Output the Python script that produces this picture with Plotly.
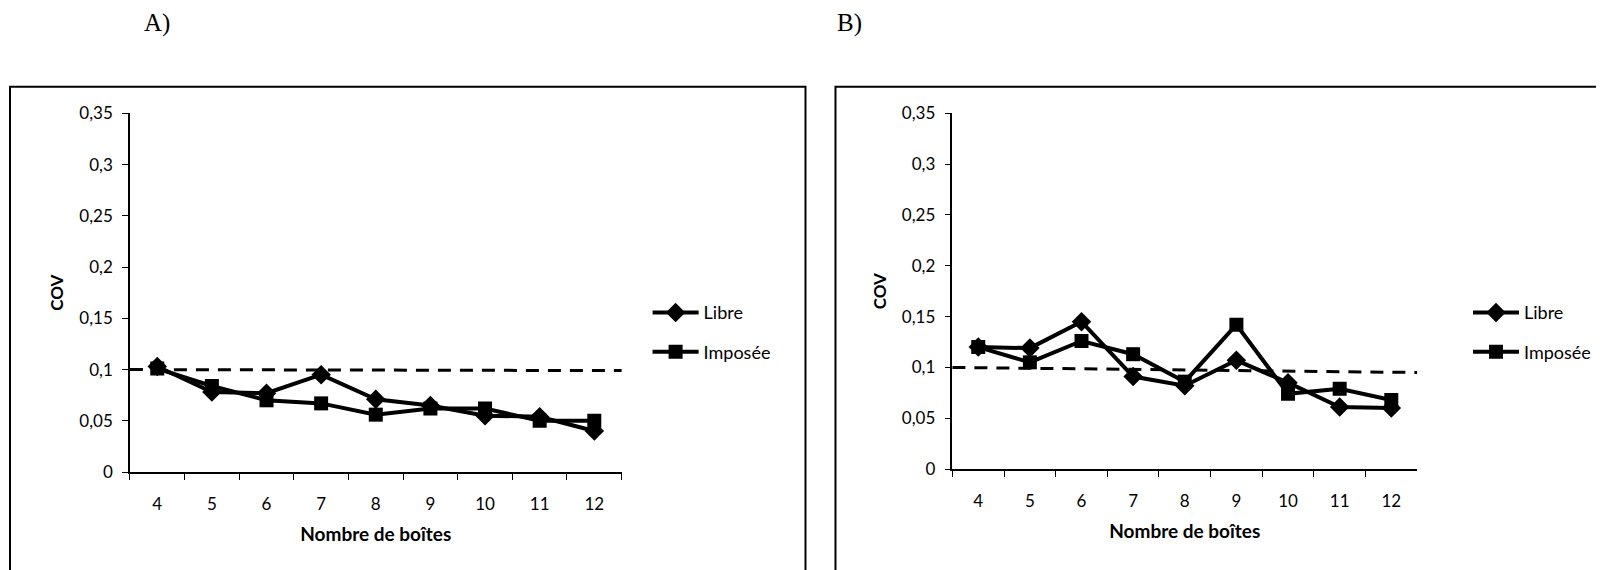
import plotly.graph_objects as go

categories = ["4", "5", "6", "7", "8", "9", "10", "11", "12"]

libre_a = [0.103, 0.078, 0.077, 0.095, 0.071, 0.065, 0.055, 0.054, 0.040]
imposee_a = [0.101, 0.084, 0.070, 0.067, 0.056, 0.062, 0.062, 0.050, 0.050]
seuil_a = [0.100, 0.099]

libre_b = [0.120, 0.119, 0.145, 0.091, 0.082, 0.107, 0.085, 0.061, 0.060]
imposee_b = [0.120, 0.105, 0.126, 0.113, 0.086, 0.142, 0.074, 0.079, 0.068]
seuil_b = [0.100, 0.095]

y_tickvals = [0, 0.05, 0.1, 0.15, 0.2, 0.25, 0.3, 0.35]
y_ticktext = ["0", "0,05", "0,1", "0,15", "0,2", "0,25", "0,3", "0,35"]

panel_titles = ["A)", "B)"]
x_title = "Nombre de boîtes"
y_title = "COV"
series_names = ["Libre", "Imposée"]

PAGE_W, PAGE_H = 1604, 570
OFF_X = 8
W, H = PAGE_W - 2 * OFF_X, 580
Y_OFF, Y_SCALE = 19.3, 0.962
FONT = "Lato, 'Open Sans', sans-serif"


def px_x(v):
    return (v - OFF_X) / W


def px_y(v):
    return 1 - ((v - Y_OFF) / Y_SCALE) / H


fig = go.Figure()

line_style = dict(color="black", width=4)

for i, (lib, imp, leg, xa, ya) in enumerate([
    (libre_a, imposee_a, "legend", "x", "y"),
    (libre_b, imposee_b, "legend2", "x2", "y2"),
]):
    fig.add_trace(go.Scatter(
        x=categories, y=lib, mode="lines+markers", name=series_names[0],
        line=line_style, marker=dict(symbol="diamond", size=15, color="black"),
        xaxis=xa, yaxis=ya, legend=leg, legendgroup="libre%d" % i,
    ))
    fig.add_trace(go.Scatter(
        x=categories, y=imp, mode="lines+markers", name=series_names[1],
        line=line_style, marker=dict(symbol="square", size=14, color="black"),
        xaxis=xa, yaxis=ya, legend=leg, legendgroup="imp%d" % i,
    ))

# dashed threshold lines across the full category span
for seuil, xref, yref in [(seuil_a, "x domain", "y"), (seuil_b, "x2 domain", "y2")]:
    fig.add_shape(type="line", xref=xref, yref=yref, x0=0, x1=1,
                  y0=seuil[0], y1=seuil[1],
                  line=dict(color="black", width=3, dash="13px,9px"))

axis_common = dict(
    showgrid=False, zeroline=False, showline=True, linecolor="black",
    linewidth=1.5, ticks="outside", ticklen=6, tickcolor="black",
    tickfont=dict(family=FONT, size=17, color="black"),
)
xtitle_font = dict(family=FONT, size=19, color="black")
ytitle_font = dict(family=FONT, size=17, color="black")

xA = [130, 622]
xB = [953, 1418]
yA = [113.5, 471.5]
yB = [113.5, 468.5]

fig.update_layout(
    width=W, height=H,
    margin=dict(l=0, r=0, t=0, b=0),
    paper_bgcolor="white", plot_bgcolor="white",
    showlegend=True,
    xaxis=dict(domain=[px_x(xA[0]), px_x(xA[1])], anchor="y", type="category",
               tickson="boundaries", range=[-0.5, 8.5], ticklabelstandoff=16,
               title=dict(text="<b>%s</b>" % x_title, font=xtitle_font, standoff=15),
               **axis_common),
    yaxis=dict(domain=[px_y(yA[1]), px_y(yA[0])], anchor="x", range=[0, 0.35],
               tickvals=y_tickvals, ticktext=y_ticktext, ticklabelstandoff=6,
               title=dict(text="<b>%s</b>" % y_title, font=ytitle_font, standoff=11),
               **axis_common),
    xaxis2=dict(domain=[px_x(xB[0]), px_x(xB[1])], anchor="y2", type="category",
                tickson="boundaries", range=[-0.5, 8.5], ticklabelstandoff=16,
                title=dict(text="<b>%s</b>" % x_title, font=xtitle_font, standoff=15),
                **axis_common),
    yaxis2=dict(domain=[px_y(yB[1]), px_y(yB[0])], anchor="x2", range=[0, 0.35],
                tickvals=y_tickvals, ticktext=y_ticktext, ticklabelstandoff=6,
                title=dict(text="<b>%s</b>" % y_title, font=ytitle_font, standoff=11),
                **axis_common),
    legend=dict(x=px_x(648), y=px_y(294), xanchor="left", yanchor="top",
                bgcolor="rgba(0,0,0,0)", font=dict(family=FONT, size=18, color="black"),
                itemwidth=46, tracegroupgap=13, traceorder="grouped"),
    legend2=dict(x=px_x(1469), y=px_y(294), xanchor="left", yanchor="top",
                 bgcolor="rgba(0,0,0,0)", font=dict(family=FONT, size=18, color="black"),
                 itemwidth=46, tracegroupgap=13, traceorder="grouped"),
)

# chart frames
fig.add_shape(type="rect", xref="paper", yref="paper",
              x0=px_x(10), x1=px_x(806), y0=px_y(87), y1=px_y(PAGE_H + 40),
              line=dict(color="black", width=2))
fig.add_shape(type="rect", xref="paper", yref="paper",
              x0=px_x(836), x1=px_x(PAGE_W + 20), y0=px_y(87), y1=px_y(PAGE_H + 40),
              line=dict(color="black", width=2))

# panel labels
for txt, xpos in zip(panel_titles, [157, 850]):
    fig.add_annotation(text=txt, xref="paper", yref="paper", x=px_x(xpos), y=px_y(23),
                       showarrow=False, xanchor="center", yanchor="middle",
                       font=dict(family="'Liberation Serif', 'DejaVu Serif', serif", size=25, color="black"))

fig.write_html("out.html")
